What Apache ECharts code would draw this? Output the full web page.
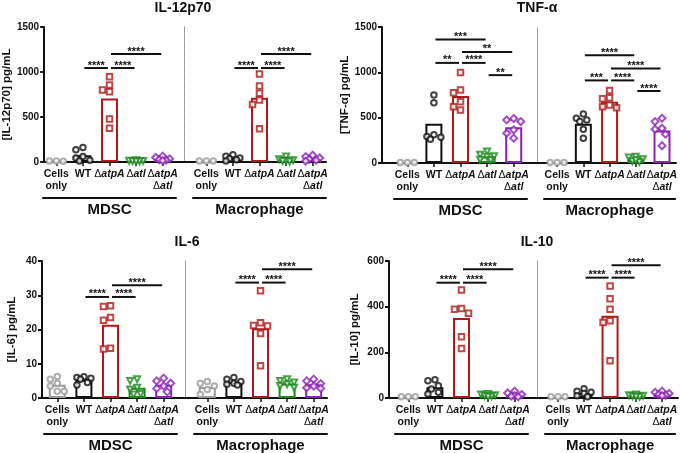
<!DOCTYPE html>
<html><head><meta charset="utf-8">
<script src="https://cdn.jsdelivr.net/npm/echarts/dist/echarts.min.js"></script>
<style>html,body{margin:0;padding:0;background:#fff}#c{width:680px;height:453px}</style>
</head><body><div id="c"></div><script>
// ---------------- DATA ----------------
const categories = ['Cells only', 'WT', 'ΔatpA', 'Δatl', 'ΔatpA Δatl'];
const groupNames = ['MDSC', 'Macrophage'];
const panelTitles = ['IL-12p70', 'TNF-α', 'IL-6', 'IL-10'];
const yAxisTitles = ['[IL-12p70] pg/mL', '[TNF-α] pg/mL', '[IL-6] pg/mL', '[IL-10] pg/mL'];
const yMaxes = [1500, 1500, 40, 600];
const ySteps = [500, 500, 10, 200];

// IL-12p70
const il12MdscPoints = [[10, 12, 8], [160, 135, 60, 45, 20, 10], [948, 856, 800, 781, 478, 374], [20, 15, 12, 10, 8, 5], [65, 50, 35, 25, 20, 15]];
const il12MdscMeans = [10, 75, 706, 12, 33];
const il12MacPoints = [[10, 10, 10], [80, 65, 45, 35, 25, 10], [977, 844, 763, 689, 638, 369], [60, 30, 20, 15, 10, 5], [75, 60, 45, 30, 20, 10]];
const il12MacMeans = [10, 43, 713, 25, 35];
const il12MdscSig = [[1, 2, 1044, '****'], [2, 3, 1044, '****'], [2, 4, 1200, '****']];
const il12MacSig = [[1, 2, 1044, '****'], [2, 3, 1044, '****'], [2, 4, 1200, '****']];

// TNF-α
const tnfMdscPoints = [[5, 5, 5], [750, 665, 311, 292, 285, 263], [999, 805, 775, 676, 621, 585], [127, 91, 75, 70, 36, 30], [490, 475, 457, 366, 329, 274]];
const tnfMdscMeans = [5, 432, 739, 72, 395];
const tnfMacPoints = [[5, 5, 5], [541, 494, 475, 457, 373, 274], [800, 720, 710, 640, 620, 610], [70, 60, 40, 20, 10, 30], [494, 457, 384, 373, 318, 190]];
const tnfMacMeans = [5, 432, 676, 38, 358];
const tnfMdscSig = [[1, 3, 1361, '***'], [2, 4, 1225, '**'], [1, 2, 1104, '**'], [2, 3, 1104, '****'], [3, 4, 969, '**']];
const tnfMacSig = [[1, 3, 1189, '****'], [2, 4, 1043, '****'], [1, 2, 911, '***'], [2, 3, 911, '****'], [3, 4, 794, '****']];

// IL-6
const il6MdscPoints = [[6.3, 5.5, 4.3, 3.5, 2.0, 2.0], [6.2, 6.0, 5.8, 5.5, 4.5, 3.8], [26.9, 26.7, 23.5, 22.7, 14.5, 14.3], [5.5, 5.0, 3.0, 2.5, 1.2, 1.0], [5.8, 5.0, 4.3, 3.5, 2.8, 1.8]];
const il6MdscMeans = [3.9, 5.4, 21.4, 3.0, 3.9];
const il6MacPoints = [[4.8, 4.3, 3.5, 2.5, 1.0], [6.0, 5.5, 4.8, 4.3, 4.0, 3.8], [31.3, 22.0, 21.2, 21.0, 18.8, 9.4], [5.5, 5.0, 4.5, 4.0, 3.5, 3.0], [5.5, 5.0, 4.2, 3.5, 3.0, 2.8]];
const il6MacMeans = [3.2, 4.7, 20.4, 4.2, 4.0];
const il6MdscSig = [[1, 2, 29.5, '****'], [2, 3, 29.5, '****'], [2, 4, 32.9, '****']];
const il6MacSig = [[1, 2, 33.7, '****'], [2, 3, 33.7, '****'], [2, 4, 37.6, '****']];

// IL-10
const il10MdscPoints = [[5, 5, 5], [80, 76, 54, 39, 25, 17], [473, 392, 389, 371, 268, 217], [18, 15, 12, 10, 8, 5], [30, 22, 15, 10, 8, 5]];
const il10MdscMeans = [5, 47, 350, 11, 15];
const il10MacPoints = [[5, 5, 5], [40, 30, 25, 20, 10, 5], [491, 435, 389, 338, 331, 163], [15, 12, 10, 8, 5, 6], [30, 25, 20, 15, 12, 10]];
const il10MacMeans = [5, 22, 360, 9, 19];
const il10MdscSig = [[1, 2, 505, '****'], [2, 3, 505, '****'], [2, 4, 564, '****']];
const il10MacSig = [[1, 2, 527, '****'], [2, 3, 527, '****'], [2, 4, 581, '****']];

const panelPoints = [[il12MdscPoints, il12MacPoints], [tnfMdscPoints, tnfMacPoints], [il6MdscPoints, il6MacPoints], [il10MdscPoints, il10MacPoints]];
const panelMeans = [[il12MdscMeans, il12MacMeans], [tnfMdscMeans, tnfMacMeans], [il6MdscMeans, il6MacMeans], [il10MdscMeans, il10MacMeans]];
const panelSig = [[il12MdscSig, il12MacSig], [tnfMdscSig, tnfMacSig], [il6MdscSig, il6MacSig], [il10MdscSig, il10MacSig]];

// ---------------- STYLE / LAYOUT ----------------
const catColors = ['#9b9b9b', '#111111', '#ad1a1a', '#1c881c', '#8a22b3'];
const catSymbols = ['circle', 'circle', 'rect', 'triangle', 'diamond'];
const catRotate = [0, 0, 0, 180, 0];
const catSizes = [5.5, 5.5, 5.5, 6, 7];
const NARROW = '"Liberation Sans Narrow", "Arial Narrow", "Liberation Sans", Arial, sans-serif';
const SANS = '"Liberation Sans", Arial, sans-serif';

const layout = [
  { yx: 42, top: 27, bottom: 162, right: 326, groups: [[43, 176], [193, 326]], divider: 184, tx: 183, ty: 1, nameGap: 31 },
  { yx: 382, top: 27, bottom: 163, right: 676, groups: [[394, 527], [544, 677]], divider: 537, tx: 537, ty: 1, nameGap: 23 },
  { yx: 42, top: 261, bottom: 398, right: 327, groups: [[44, 177], [194, 327]], divider: 185, tx: 187, ty: 235, nameGap: 24 },
  { yx: 389, top: 261, bottom: 398, right: 678, groups: [[395, 528], [545, 678]], divider: 537, tx: 537, ty: 235, nameGap: 28 }
];

const labelRich = {
  b: { fontWeight: 'bold', fontSize: 10.5, fontFamily: NARROW, color: '#111', lineHeight: 12 },
  i: { fontWeight: 'bold', fontStyle: 'italic', fontSize: 10.5, fontFamily: NARROW, color: '#111', lineHeight: 12 },
  d: { fontWeight: 'normal', fontSize: 10.5, fontFamily: SANS, color: '#111', lineHeight: 12 }
};
const labelFmt = ['{b|Cells}\n{b|only}', '{b|WT}', '{d|Δ}{i|atpA}', '{d|Δ}{i|atl}', '{d|Δ}{i|atpA}\n{d|Δ}{i|atl}'];

// simple beeswarm: spread overlapping points horizontally, allowing partial overlap
const MIN_D = 6.3, STEP = 3.5, MAX_OFF = 7.5;
function swarm(vals, pxPerUnit) {
  const placed = [], offs = [];
  vals.forEach((v, i) => {
    const y = v * pxPerUnit;
    const cands = [0];
    for (let k = 1; k * STEP <= MAX_OFF; k++) cands.push(-k * STEP, k * STEP);
    let best = 0, bestD = -1;
    for (const c of cands) {
      const dmin = placed.length ? Math.min(...placed.map(p => Math.hypot(p.x - c, p.y - y))) : Infinity;
      if (dmin >= MIN_D) { best = c; bestD = dmin; break; }
      if (dmin > bestD) { bestD = dmin; best = c; }
    }
    placed.push({ x: best, y });
    offs[i] = best;
  });
  return offs;
}

const grids = [], xAxes = [], yAxes = [], series = [], titles = [];
layout.forEach((P, pi) => {
  const h = P.bottom - P.top;
  titles.push({ text: panelTitles[pi], left: P.tx, top: P.ty, textAlign: 'center', padding: 0,
    textStyle: { fontSize: 14, fontWeight: 'bold', fontFamily: NARROW, color: '#111' } });
  const fi = grids.length;
  grids.push({ left: P.yx, top: P.top, width: P.right - P.yx, height: h });
  xAxes.push({ gridIndex: fi, type: 'value', min: 0, max: 1, position: 'bottom',
    axisLine: { show: true, onZero: false, lineStyle: { color: '#111', width: 2 } },
    axisTick: { show: false }, axisLabel: { show: false }, splitLine: { show: false } });
  yAxes.push({ gridIndex: fi, type: 'value', min: 0, max: yMaxes[pi], interval: ySteps[pi], position: 'left',
    name: yAxisTitles[pi], nameLocation: 'middle', nameGap: P.nameGap,
    nameTextStyle: { fontSize: 11.5, fontWeight: 'bold', fontFamily: SANS, color: '#111' },
    axisLine: { show: true, lineStyle: { color: '#111', width: 2 } },
    axisTick: { show: true, length: 4, lineStyle: { color: '#111', width: 2 } },
    axisLabel: { fontSize: 10, fontWeight: 'bold', fontFamily: NARROW, color: '#111', margin: 5, formatter: v => String(v) },
    splitLine: { show: false } });

  P.groups.forEach(([l, r], gi) => {
    const g = grids.length;
    grids.push({ left: l, top: P.top, width: r - l, height: h });
    const xa = xAxes.length;
    xAxes.push({ gridIndex: g, type: 'category', data: categories, position: 'bottom',
      axisLine: { show: false },
      axisTick: { show: true, alignWithLabel: true, interval: 0, length: 4, lineStyle: { color: '#111', width: 1.5 } },
      axisLabel: { interval: 0, margin: 6, formatter: (v, i) => labelFmt[i], rich: labelRich } });
    xAxes.push({ gridIndex: g, type: 'category', data: [groupNames[gi]], position: 'bottom', offset: 36,
      axisLine: { show: true, lineStyle: { color: '#111', width: 2 } },
      axisTick: { show: false },
      axisLabel: { margin: 4, fontSize: 15, fontWeight: 'bold', fontFamily: NARROW, color: '#111' } });
    const ya = yAxes.length;
    yAxes.push({ gridIndex: g, type: 'value', min: 0, max: yMaxes[pi], position: 'left',
      show: gi === 1, offset: gi === 1 ? (l - P.divider) : 0,
      axisLine: { show: true, lineStyle: { type: 'dotted', color: '#8a8a8a', width: 1 } },
      axisTick: { show: false }, axisLabel: { show: false }, splitLine: { show: false } });

    const means = panelMeans[pi][gi];
    series.push({ type: 'bar', xAxisIndex: xa, yAxisIndex: ya, barWidth: 17, silent: true, z: 2,
      data: means.map((v, i) => ({ value: v, itemStyle: { color: '#fff', borderColor: catColors[i], borderWidth: 2 } })) });

    const pts = panelPoints[pi][gi];
    const ppu = h / yMaxes[pi];
    const sdata = [];
    pts.forEach((vals, ci) => {
      const offs = swarm(vals, ppu);
      vals.forEach((v, k) => sdata.push({
        value: [ci, v], symbol: catSymbols[ci], symbolRotate: catRotate[ci],
        symbolSize: catSizes[ci], symbolOffset: [offs[k], 0],
        itemStyle: { color: '#fff', borderColor: catColors[ci], borderWidth: 2 }
      }));
    });
    series.push({ type: 'scatter', xAxisIndex: xa, yAxisIndex: ya, data: sdata, silent: true, z: 3 });

    const sig = panelSig[pi][gi];
    series.push({ type: 'custom', xAxisIndex: xa, yAxisIndex: ya, silent: true, z: 4,
      data: sig.map(s => [s[0], s[1], s[2]]), encode: { x: [0, 1], y: 2 },
      renderItem: (params, api) => {
        const s = sig[params.dataIndex];
        const p1 = api.coord([api.value(0), api.value(2)]);
        const p2 = api.coord([api.value(1), api.value(2)]);
        return { type: 'group', children: [
          { type: 'line', shape: { x1: p1[0] + 1.5, y1: p1[1], x2: p2[0] - 1.5, y2: p2[1] }, style: { stroke: '#111', lineWidth: 2 } },
          { type: 'text', style: { text: s[3], x: (p1[0] + p2[0]) / 2, y: p1[1] + 3, align: 'center', verticalAlign: 'bottom',
            font: 'bold 11px ' + NARROW, fill: '#111' } }
        ] };
      } });
  });
});

const chart = echarts.init(document.getElementById('c'), null, { renderer: 'canvas' });
chart.setOption({ animation: false, backgroundColor: '#fff', title: titles, grid: grids, xAxis: xAxes, yAxis: yAxes, series: series });
</script></body></html>
